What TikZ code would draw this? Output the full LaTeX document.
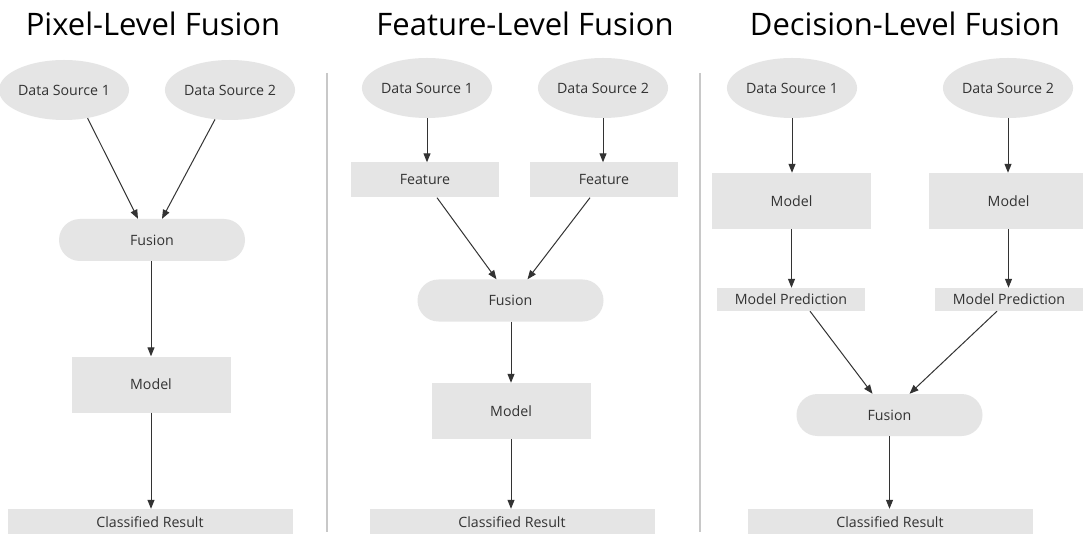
\documentclass[tikz,border=0pt]{standalone}
\usepackage{fontspec}
\setmainfont{Open Sans}
\usetikzlibrary{shapes.geometric,shapes.misc,arrows.meta,calc}
\definecolor{boxfill}{HTML}{E5E5E5}
\definecolor{txt}{HTML}{333333}
\definecolor{sep}{HTML}{C8C8C8}
\tikzset{
  lbl/.style={font=\fontsize{14.2}{16}\selectfont,text=txt},
  src/.style={lbl,ellipse,fill=boxfill,minimum width=115pt,minimum height=60pt,inner sep=0pt},
  pill/.style={lbl,rounded rectangle,fill=boxfill,minimum width=186pt,minimum height=42pt,inner sep=0pt},
  modelbox/.style={lbl,rectangle,fill=boxfill,minimum width=159pt,minimum height=56pt,inner sep=0pt},
  featbox/.style={lbl,rectangle,fill=boxfill,minimum width=148pt,minimum height=35pt,inner sep=0pt},
  predbox/.style={lbl,rectangle,fill=boxfill,minimum width=148pt,minimum height=23pt,inner sep=0pt},
  resbox/.style={lbl,rectangle,fill=boxfill,minimum width=285pt,minimum height=27pt,inner sep=0pt},
  title/.style={font=\fontsize{31}{35}\selectfont,text=black,inner sep=0pt},
  arr/.style={draw=txt,line width=1pt,-{Stealth[length=9pt,width=7pt,inset=0pt]}},
  sepline/.style={draw=sep,line width=1.2pt}
}
\begin{document}
\begin{tikzpicture}[x=1pt,y=-1pt]
\useasboundingbox (0,0) rectangle (1083,534);
\fill[white] (0,0) rectangle (1083,534);
% separators
\coordinate (s1t) at (327,73); \coordinate (s1b) at (327,532);
\coordinate (s2t) at (700,73); \coordinate (s2b) at (700,532);
\draw[sepline] (s1t) -- (s1b);
\draw[sepline] (s2t) -- (s2b);
% titles
\node[title] (t1) at (153,24) {Pixel-Level Fusion};
\node[title] (t2) at (525,24) {Feature-Level Fusion};
\node[title] (t3) at (905,24) {Decision-Level Fusion};
% pixel level
\node[src] (pds1) at (64,90) {Data Source 1};
\node[src] (pds2) at (230,90) {Data Source 2};
\node[pill] (pfus) at (152,240) {Fusion};
\node[modelbox] (pmod) at (151,384.5) {Model};
\node[resbox] (pres) at (150,522.5) {Classified Result};
\draw[arr] (pds1.-50) -- ($(pfus.north)+(-14,0)$);
\draw[arr] (pds2.-117) -- ($(pfus.north)+(10,0)$);
\draw[arr] (pfus.south -| pmod.north) -- (pmod.north);
\draw[arr] (pmod.south) -- (pmod.south |- pres.north);
% feature level
\node[src] (fds1) at (427,88) {Data Source 1};
\node[src] (fds2) at (603,88) {Data Source 2};
\node[featbox] (ffl) at (425,180) {Feature};
\node[featbox] (ffr) at (604,180) {Feature};
\node[pill] (ffus) at (510.5,300.5) {Fusion};
\node[modelbox] (fmod) at (511,411) {Model};
\node[resbox] (fres) at (512,522.5) {Classified Result};
\draw[arr] (fds1.south) -- (fds1.south |- ffl.north);
\draw[arr] (fds2.south) -- (fds2.south |- ffr.north);
\draw[arr] ($(ffl.south)+(12,0)$) -- ($(ffus.north)+(-14,0)$);
\draw[arr] ($(ffr.south)+(-14,0)$) -- ($(ffus.north)+(17,0)$);
\draw[arr] (ffus.south -| fmod.north) -- (fmod.north);
\draw[arr] (fmod.south) -- (fmod.south |- fres.north);
% decision level
\node[src] (dds1) at (792,88) {Data Source 1};
\node[src] (dds2) at (1008,88) {Data Source 2};
\node[modelbox] (dml) at (791.5,201) {Model};
\node[modelbox] (dmr) at (1008.5,201) {Model};
\node[predbox] (dpl) at (791,299.5) {Model Prediction};
\node[predbox] (dpr) at (1009,299.5) {Model Prediction};
\node[pill] (dfus) at (889.5,415) {Fusion};
\node[resbox] (dres) at (890,522.5) {Classified Result};
\draw[arr] (dds1.south) -- (dds1.south |- dml.north);
\draw[arr] (dds2.south) -- (dds2.south |- dmr.north);
\draw[arr] (dml.south) -- (dml.south |- dpl.north);
\draw[arr] (dmr.south) -- (dmr.south |- dpr.north);
\draw[arr] ($(dpl.south)+(19,0)$) -- ($(dfus.north)+(-17,0)$);
\draw[arr] ($(dpr.south)+(-12,0)$) -- ($(dfus.north)+(20,0)$);
\draw[arr] (dfus.south) -- (dfus.south |- dres.north);
\end{tikzpicture}
\end{document}
